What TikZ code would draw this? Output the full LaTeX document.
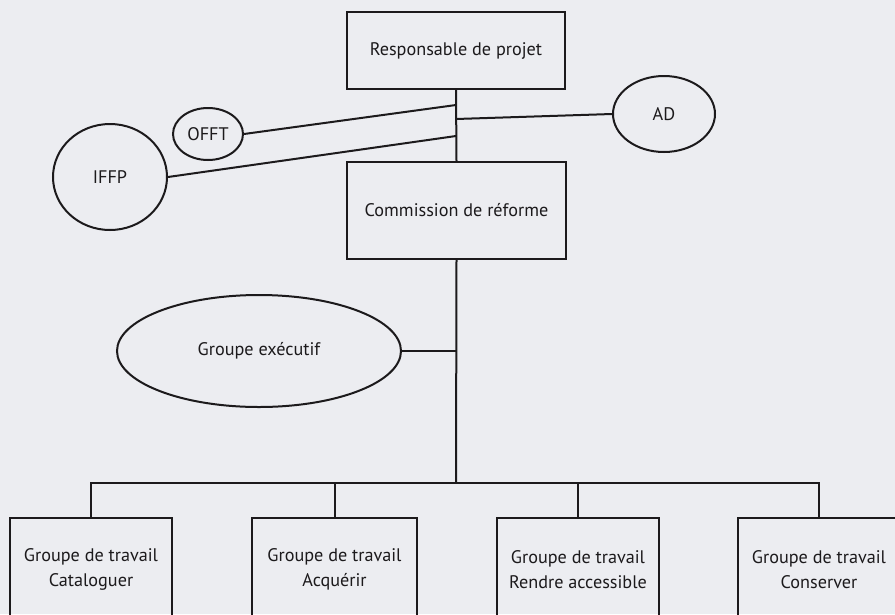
\documentclass[tikz,border=0pt]{standalone}
\usepackage{fontspec}
\setmainfont{PT Sans}
\usetikzlibrary{shapes.geometric}
\definecolor{paper}{RGB}{236,237,241}
\definecolor{ink}{RGB}{28,26,28}
\begin{document}
\begin{tikzpicture}[x=1pt,y=-1pt,
  boxnode/.style={draw=ink, line width=2pt, rectangle, inner sep=0pt, align=center,
    text=ink, font=\fontsize{18.2}{25}\selectfont},
  ellnode/.style={draw=ink, line width=2pt, ellipse, inner sep=0pt,
    text=ink, font=\fontsize{18.2}{22}\selectfont},
  link/.style={draw=ink, line width=2pt}]
\fill[paper] (0,0) rectangle (895,614);
\useasboundingbox (0,0) rectangle (895,614);
% top boxes
\node[boxnode, minimum width=218pt, minimum height=77pt] (resp) at (456,50.5) {Responsable de projet};
\node[boxnode, minimum width=219pt, minimum height=97pt] (comm) at (456.5,210.5) {Commission de réforme};
% ellipses
\node[ellnode, minimum width=102pt, minimum height=76pt] (ad) at (664,114) {AD};
\node[ellnode, minimum width=70pt, minimum height=52pt] (offt) at (208,134) {OFFT};
\node[ellnode, minimum width=114pt, minimum height=106pt] (ifpp) at (110,177) {IFFP};
\node[ellnode, minimum width=284pt, minimum height=112pt] (ge) at (259,351) {Groupe exécutif};
% bottom boxes
\node[boxnode, minimum width=162pt, minimum height=103pt] (cat) at (91,569.5) {Groupe de travail\\Cataloguer};
\node[boxnode, minimum width=165pt, minimum height=103pt] (acq) at (334.5,569.5) {Groupe de travail\\Acquérir};
\node[boxnode, minimum width=162pt, minimum height=103pt] (rend) at (578,569.5) {Groupe de travail\\Rendre accessible};
\node[boxnode, minimum width=162pt, minimum height=103pt] (cons) at (819,569.5) {Groupe de travail\\Conserver};
% trunk coordinates
\coordinate (tofft) at (456,105);
\coordinate (tad) at (456,119);
\coordinate (tifpp) at (456,136);
\coordinate (tge) at (456,351);
\coordinate (bus) at (456,483);
% connectors
\draw[link] (resp.south) -- (comm.north);
\draw[link] (comm.south) -- (bus);
\draw[link] (offt.east) -- (tofft);
\draw[link] (tad) -- (ad.west);
\draw[link] (ifpp.east) -- (tifpp);
\draw[link] (ge.east) -- (tge);
\draw[link] (cat.north) |- (bus) -| (cons.north);
\draw[link] (acq.north) -- (acq.north |- bus);
\draw[link] (rend.north) -- (rend.north |- bus);
\end{tikzpicture}
\end{document}
